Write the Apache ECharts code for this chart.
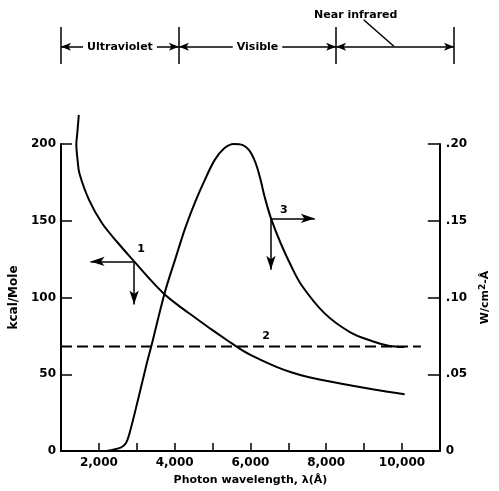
<!DOCTYPE html>
<html>
<head>
<meta charset="utf-8">
<script src="https://cdn.jsdelivr.net/npm/echarts@6/dist/echarts.min.js"></script>
<style>
html,body{margin:0;padding:0;background:#fff;}
#c{width:499px;height:491px;}
</style>
</head>
<body>
<div id="c"></div>
<script>
// ---- data ----
const xTickValues = [2000,3000,4000,5000,6000,7000,8000,9000,10000];
const xLabelValues = [2000,4000,6000,8000,10000];
// curve 1: photon energy (kcal/Mole)
const curve1 = [[1470,219],[1430,207],[1405,200],[1440,189],[1485,181],[1740,163.6],[2080,148.5],[2505,135.5],[2930,123.5],[3270,114],[3695,103],[4120,94.4],[4545,86.8],[4970,79.2],[5395,72],[5820,65.1],[6245,59.7],[6670,55],[7095,51.1],[7520,48.2],[8370,44],[9220,40.3],[10070,37]];
// curve 2: dashed level (kcal/Mole)
const curve2 = [[1000,68],[10500,68]];
// curve 3: solar intensity (W/cm2-A)
const curve3 = [[2200,0],[2590,0.0024],[2716,0.0052],[2803,0.011],[3015,0.0316],[3270,0.0576],[3397,0.0695],[3737,0.103],[4035,0.1265],[4290,0.146],[4545,0.1625],[4800,0.1768],[5055,0.1895],[5310,0.1972],[5560,0.2],[5800,0.1993],[5960,0.1962],[6090,0.1905],[6180,0.1845],[6270,0.1765],[6373,0.1658],[6541,0.1517],[6796,0.1355],[7095,0.1195],[7350,0.108],[7945,0.090],[8625,0.0775],[9220,0.0715],[9645,0.0686],[10070,0.0677]];
// arrow annotations
const arrow1 = {origin:[2930,123.5], left:1780, down:95.5, label:[3117,131.6], text:'1'};
const arrow3 = {origin:[6541,0.1515], right:7700, down:0.118, label:[6880,0.157], text:'3'};
const label2 = {pos:[6415,75], text:'2'};
// spectrum bands
const bandEdges = [1000,4000,8000,11000];
const bandNames = ['Ultraviolet','Visible',''];
const nearIR = {text:'Near infrared', labelPos:[8500,0.83], leaderFrom:[8700,0.75], leaderTo:[9470,0.30]};

const BLACK = '#000';
const numFont = {fontFamily:'DejaVu Sans', fontWeight:'bold', fontSize:12, color:BLACK};
const txtFont = {fontFamily:'DejaVu Sans', fontWeight:'bold', fontSize:11, color:BLACK};

function textPoint(coord, text, extra) {
  return {
    coord: coord, symbol:'rect', symbolSize:1, itemStyle:{color:'rgba(0,0,0,0)'},
    label:Object.assign({show:true, position:'inside', formatter:text}, txtFont, extra||{})
  };
}

// band markLines
const bandLines = [];
bandEdges.forEach(function(b){
  bandLines.push([{coord:[b,0], symbol:'none'},{coord:[b,0.627], symbol:'none'}]);
});
for (let i=0;i<bandEdges.length-1;i++){
  bandLines.push([{coord:[bandEdges[i],0.293], symbol:'arrow'},{coord:[bandEdges[i+1],0.293], symbol:'arrow'}]);
}
bandLines.push([{coord:nearIR.leaderFrom, symbol:'none'},{coord:nearIR.leaderTo, symbol:'none'}]);
const bandLabels = [];
for (let i=0;i<bandNames.length;i++){
  if (bandNames[i]) bandLabels.push(textPoint([(bandEdges[i]+bandEdges[i+1])/2,0.293], bandNames[i], {backgroundColor:'#fff', padding:[0,4]}));
}
bandLabels.push(textPoint(nearIR.labelPos, nearIR.text));

const chart = echarts.init(document.getElementById('c'), null, {renderer:'canvas'});
chart.setOption({
  backgroundColor:'#fff',
  animation:false,
  grid:[
    {left:61, right:48, top:144, bottom:39},
    {left:61, right:45, top:5, height:59}
  ],
  xAxis:[
    {type:'value', gridIndex:0, min:1000, max:11000, interval:1000,
     name:'Photon wavelength, λ(Å)', nameLocation:'middle', nameGap:24,
     nameTextStyle:txtFont,
     axisLine:{show:true, lineStyle:{color:BLACK, width:2}},
     axisTick:{show:true, inside:true, length:8, customValues:xTickValues, lineStyle:{color:BLACK, width:1.5}},
     axisLabel:Object.assign({customValues:xLabelValues, margin:6, formatter:function(v){return v.toLocaleString('en-US');}}, numFont),
     splitLine:{show:false}},
    {type:'value', gridIndex:1, min:1000, max:11000, show:false}
  ],
  yAxis:[
    {type:'value', gridIndex:0, min:0, max:200, interval:50, position:'left',
     name:'kcal/Mole', nameLocation:'middle', nameGap:37, nameRotate:90,
     nameTextStyle:Object.assign({}, txtFont, {fontSize:12}),
     axisLine:{show:true, lineStyle:{color:BLACK, width:2}},
     axisTick:{show:true, inside:true, length:11, lineStyle:{color:BLACK, width:1.5}},
     axisLabel:Object.assign({margin:5}, numFont),
     splitLine:{show:false}},
    {type:'value', gridIndex:0, min:0, max:0.2, interval:0.05, position:'right',
     name:'{a|W/cm}{s|2}{a|-Å}', nameLocation:'middle', nameGap:26, nameRotate:90,
     nameTextStyle:{rich:{a:txtFont, s:Object.assign({}, txtFont, {fontSize:9, verticalAlign:'bottom', padding:[0,0,6,0]})}},
     axisLine:{show:true, lineStyle:{color:BLACK, width:2}},
     axisTick:{show:true, inside:true, length:12, lineStyle:{color:BLACK, width:1.5}},
     axisLabel:Object.assign({margin:6, formatter:function(v){return v===0?'0':'.'+Math.round(v*100).toString().padStart(2,'0');}}, numFont),
     splitLine:{show:false}},
    {type:'value', gridIndex:1, min:0, max:1, show:false}
  ],
  series:[
    {type:'line', name:'1', xAxisIndex:0, yAxisIndex:0, data:curve1, smooth:0.35, showSymbol:false, clip:false,
     lineStyle:{color:BLACK, width:2},
     markLine:{silent:true, animation:false, symbolSize:[7,14], label:{show:false},
       lineStyle:{color:BLACK, width:1.5, type:'solid'},
       data:[
         [{coord:arrow1.origin, symbol:'none'},{coord:[arrow1.left, arrow1.origin[1]], symbol:'arrow'}],
         [{coord:arrow1.origin, symbol:'none'},{coord:[arrow1.origin[0], arrow1.down], symbol:'arrow'}]
       ]},
     markPoint:{silent:true, animation:false, data:[textPoint(arrow1.label, arrow1.text)]}},
    {type:'line', name:'2', xAxisIndex:0, yAxisIndex:0, data:curve2, showSymbol:false,
     lineStyle:{color:BLACK, width:2, type:[11,5]},
     markPoint:{silent:true, animation:false, data:[textPoint(label2.pos, label2.text)]}},
    {type:'line', name:'3', xAxisIndex:0, yAxisIndex:1, data:curve3, smooth:0.35, showSymbol:false, clip:false,
     lineStyle:{color:BLACK, width:2},
     markLine:{silent:true, animation:false, symbolSize:[7,14], label:{show:false},
       lineStyle:{color:BLACK, width:1.5, type:'solid'},
       data:[
         [{coord:arrow3.origin, symbol:'none'},{coord:[arrow3.right, arrow3.origin[1]], symbol:'arrow'}],
         [{coord:arrow3.origin, symbol:'none'},{coord:[arrow3.origin[0], arrow3.down], symbol:'arrow'}]
       ]},
     markPoint:{silent:true, animation:false, data:[textPoint(arrow3.label, arrow3.text)]}},
    {type:'line', name:'bands', xAxisIndex:1, yAxisIndex:2, data:[[1000,0]], showSymbol:false,
     lineStyle:{width:0},
     markLine:{silent:true, animation:false, symbolSize:[6,10], label:{show:false},
       lineStyle:{color:BLACK, width:1.5, type:'solid'}, data:bandLines},
     markPoint:{silent:true, animation:false, z:10, data:bandLabels}}
  ]
});
</script>
</body>
</html>
